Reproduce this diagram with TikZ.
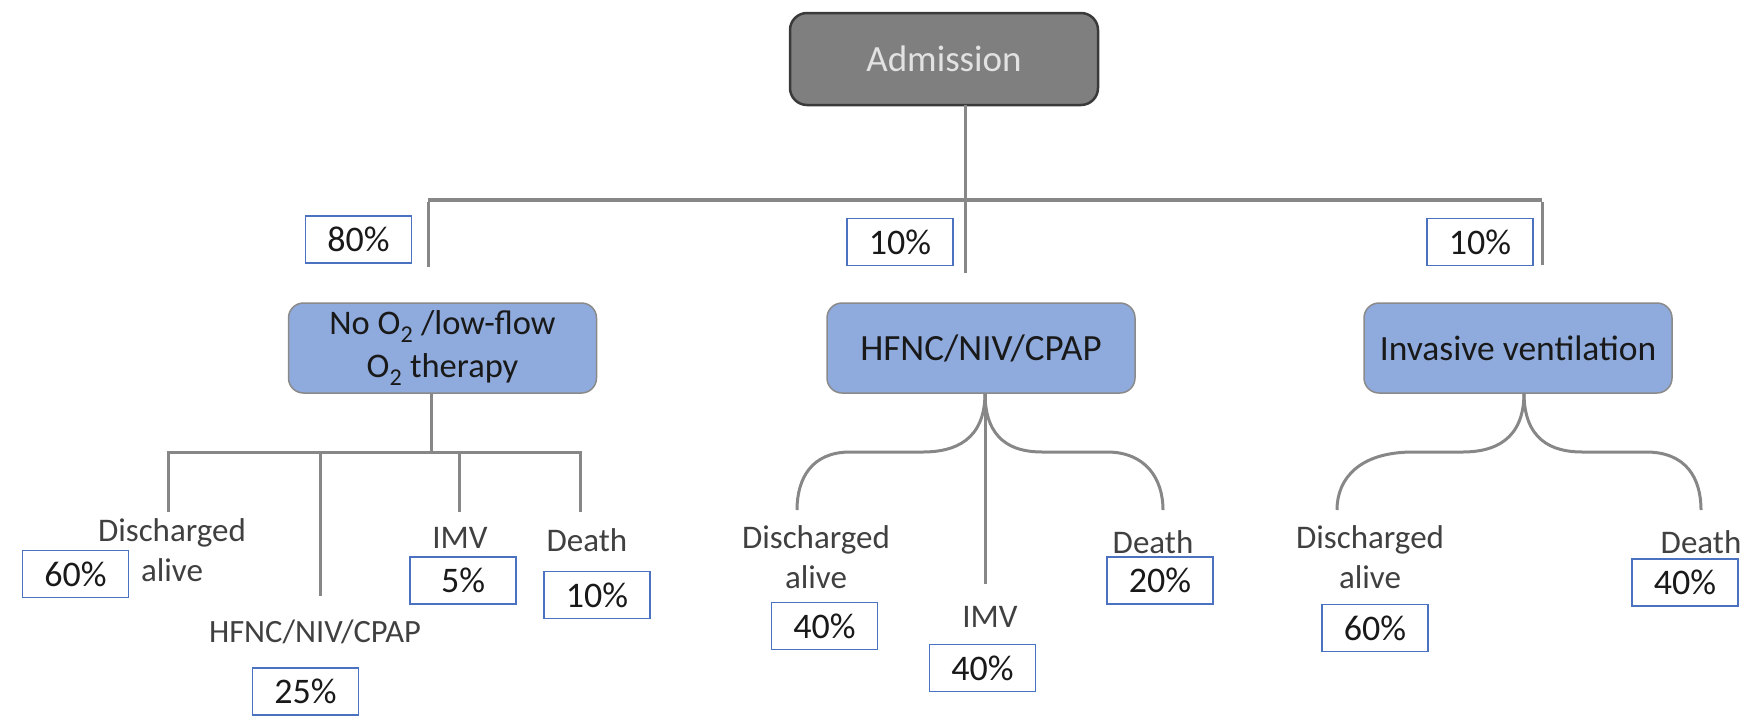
\documentclass[tikz,border=0pt]{standalone}
\usepackage{fontspec}
\setmainfont{Carlito}
\definecolor{admfill}{HTML}{7F7F7F}
\definecolor{admborder}{HTML}{3A3A3A}
\definecolor{admtext}{HTML}{E2E2E2}
\definecolor{catfill}{HTML}{8FAADC}
\definecolor{catborder}{HTML}{8A8A8A}
\definecolor{pctborder}{HTML}{4A72C0}
\definecolor{lbltext}{HTML}{404040}
\definecolor{linegray}{HTML}{878787}
\begin{document}
\begin{tikzpicture}[x=1pt,y=-1pt,
  adm/.style={draw=admborder, line width=2.5pt, fill=admfill, rounded corners=17pt,
    minimum width=308pt, minimum height=92pt, text=admtext,
    font=\fontsize{37}{43}\selectfont, inner sep=0pt},
  cat/.style={draw=catborder, line width=1.5pt, fill=catfill, rounded corners=15pt,
    minimum width=308pt, minimum height=90pt, text=black!90,
    font=\fontsize{34.5}{43}\selectfont, align=center, inner sep=0pt},
  pct/.style={draw=pctborder, line width=1.8pt, fill=white, minimum width=106pt,
    minimum height=47pt, text=black!90, font=\fontsize{36}{40}\selectfont, inner sep=0pt},
  lbl/.style={text=lbltext, font=\fontsize{33}{40}\selectfont, align=center, inner sep=0pt},
  conn/.style={draw=linegray, line width=3pt},
  bar/.style={draw=linegray, line width=4.5pt}
]
\useasboundingbox (0,0) rectangle (1753,723);

% main nodes
\node[adm] (adm) at (944,59) {Admission};
\node[cat] (noox) at (442.5,348) {No O\textsubscript{2} /low-flow\\O\textsubscript{2} therapy};
\node[cat, font=\fontsize{37}{43}\selectfont] (hfnc) at (981,348) {HFNC/NIV/CPAP};
\node[cat, font=\fontsize{35.5}{43}\selectfont] (inv) at (1518,348) {Invasive ventilation};

% first level percentages
\node[pct] (p80) at (358.5,239.5) {80\%};
\node[pct] (p10a) at (900,242) {10\%};
\node[pct] (p10b) at (1480,242) {10\%};

% coordinates for the top tree
\coordinate (admout) at (965,105);
\coordinate (topL) at (428,200);
\coordinate (topR) at (1542,200);
\coordinate (endL) at (428,267);
\coordinate (endM) at (965,273);
\coordinate (endR) at (1542,265);

\draw[conn] (admout) -- (endM);
\draw[bar] (topL) -- (topR);
\draw[conn] ([yshift=-2pt]topL) -- (endL);
\draw[conn] ([yshift=-2pt]topR) -- (endR);

% left subtree (No O2)
\coordinate (nj) at (431,393);
\coordinate (nbar) at (431,452);
\coordinate (nL) at (168,452);
\coordinate (nR) at (580,452);
\coordinate (nA) at (320,452);
\coordinate (nB) at (459,452);
\coordinate (nLe) at (168,512);
\coordinate (nAe) at (320,596);
\coordinate (nBe) at (459,512);
\coordinate (nRe) at (580,512);
\draw[conn] (nj) -- (nbar);
\draw[conn] (nLe) -- (nL) -- (nR) -- (nRe);
\draw[conn] (nA) -- (nAe);
\draw[conn] (nB) -- (nBe);

\node[lbl] (l1) at (172,550) {Discharged\\alive};
\node[pct] (p60a) at (75.5,574) {60\%};
\node[lbl, font=\fontsize{32.5}{40}\selectfont] (l2) at (315,632) {HFNC/NIV/CPAP};
\node[pct] (p25) at (305.5,691.5) {25\%};
\node[lbl] (l3) at (460,538) {IMV};
\node[pct] (p5) at (463,580.5) {5\%};
\node[lbl] (l4) at (587,540) {Death};
\node[pct] (p10c) at (597,595) {10\%};

% middle subtree (HFNC)
\coordinate (hj) at (985,393);
\coordinate (hLe) at (797,510);
\coordinate (hMe) at (985,584);
\coordinate (hRe) at (1163,510);
\draw[conn] (hj) .. controls (985,440) and (955,452) .. (923,452) -- (850,452)
  .. controls (812,452) and (797,478) .. (hLe);
\draw[conn] (hj) .. controls (985,440) and (1012,452) .. (1042,452) -- (1107,452)
  .. controls (1145,452) and (1163,478) .. (hRe);
\draw[conn] (hj) -- (hMe);

\node[lbl] (l5) at (816,557.5) {Discharged\\alive};
\node[pct] (p40a) at (824.5,626) {40\%};
\node[lbl] (l6) at (990,617) {IMV};
\node[pct] (p40b) at (982.5,668) {40\%};
\node[lbl] (l7) at (1153,542) {Death};
\node[pct] (p20) at (1160,580.5) {20\%};

% right subtree (invasive)
\coordinate (ij) at (1524,393);
\coordinate (iLe) at (1337,510);
\coordinate (iRe) at (1701,510);
\draw[conn] (ij) .. controls (1524,440) and (1494,452) .. (1463,452) -- (1413,452)
  .. controls (1360,452) and (1337,478) .. (iLe);
\draw[conn] (ij) .. controls (1524,440) and (1552,452) .. (1582,452) -- (1646,452)
  .. controls (1686,452) and (1701,478) .. (iRe);

\node[lbl] (l8) at (1370,557.5) {Discharged\\alive};
\node[pct] (p60b) at (1375,628) {60\%};
\node[lbl] (l9) at (1701,542) {Death};
\node[pct] (p40c) at (1685,582.5) {40\%};
\end{tikzpicture}
\end{document}
